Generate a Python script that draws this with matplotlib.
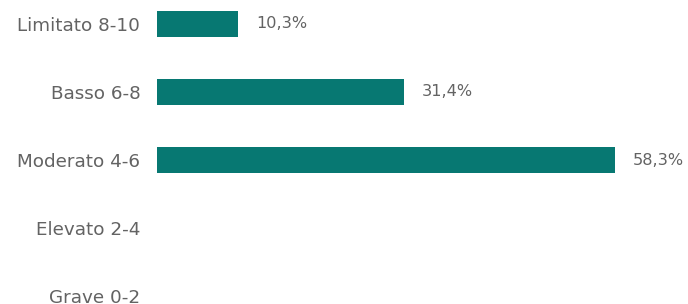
import matplotlib
matplotlib.use("Agg")
import matplotlib.pyplot as plt

categories = ["Limitato 8-10", "Basso 6-8", "Moderato 4-6", "Elevato 2-4", "Grave 0-2"]
values = [10.3, 31.4, 58.3, 0, 0]
value_labels = ["10,3%", "31,4%", "58,3%", "", ""]

plt.rcParams['font.family'] = ['DejaVu Sans']
bar_color = "#077872"
text_color = "#636363"

fig = plt.figure(figsize=(6.88, 3.04), dpi=100)
ax = fig.add_axes([157/688, 0, 1 - 157/688, 1])
ypos = list(range(len(categories)))
ax.barh(ypos, values, height=0.38, color=bar_color)
ax.set_xlim(0, (688 - 157) / 7.856)
ax.set_ylim((304 - 24) / 68, -24 / 68)
ax.set_yticks(ypos)
ax.set_yticklabels(categories, fontsize=13.2, color=text_color)
ax.tick_params(axis='y', length=0, pad=12)
ax.set_xticks([])
for s in ax.spines.values():
    s.set_visible(False)
for y, v, lab in zip(ypos, values, value_labels):
    if lab:
        ax.text(v + 2.3, y, lab, va='center', ha='left', fontsize=11.6, color=text_color)

fig.savefig("out.png", dpi=100)
